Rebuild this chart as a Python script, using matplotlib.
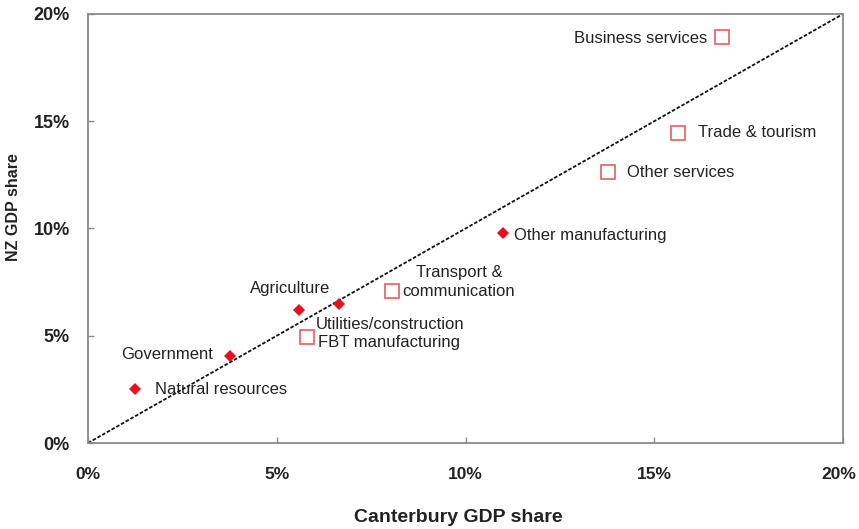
import matplotlib
matplotlib.use("Agg")
import matplotlib.pyplot as plt
import matplotlib.transforms as mtransforms
from matplotlib.ticker import FuncFormatter

plt.rcParams['font.family'] = ['Liberation Sans', 'DejaVu Sans']

# Goods-type sectors (filled red diamonds)
names_d = ["Natural resources", "Government", "Agriculture",
           "Utilities/construction", "Other manufacturing"]
canterbury_d = [1.25, 3.75, 5.6, 6.65, 11.0]
nz_d = [2.5, 4.05, 6.2, 6.5, 9.8]

# Service-type sectors (open squares)
names_s = ["FBT manufacturing", "Transport &\ncommunication", "Other services",
           "Trade & tourism", "Business services"]
canterbury_s = [5.8, 8.05, 13.77, 15.63, 16.8]
nz_s = [4.95, 7.1, 12.63, 14.45, 18.93]

ticks = [0, 5, 10, 15, 20]

fig = plt.figure(figsize=(8.59, 5.29), dpi=100)
ax = fig.add_axes([88/859, 86/529, 755/859, 429/529])

ax.set_xlim(0, 20)
ax.set_ylim(0, 20)

# 45-degree reference line
ax.plot([ticks[0], ticks[-1]], [ticks[0], ticks[-1]], color='#111111',
        linestyle=(0, (2.0, 1.0)), linewidth=1.3, zorder=1)

ax.plot(canterbury_d, nz_d, linestyle='none', marker='D', markersize=6,
        color='#e8101a', markeredgewidth=0, zorder=3)
ax.plot(canterbury_s, nz_s, linestyle='none', marker='s', markersize=9.5,
        markerfacecolor='none', markeredgecolor='#e86a6a',
        markeredgewidth=1.3, zorder=3)

lbl_kw = dict(textcoords='offset pixels', fontsize=12, color='#222222',
              va='center')

# label layout for diamonds
off_d = [(20, 0, 'left'), (-17, 2, 'right'), (-9, 22, 'center'),
         (-23, -21, 'left'), (11, -3, 'left')]
for n, x, y, (dx, dy, ha) in zip(names_d, canterbury_d, nz_d, off_d):
    ax.annotate(n, (x, y), xytext=(dx, dy), ha=ha, **lbl_kw)

off_s = [(11, -6, 'left'), (67, 9, 'center'), (19, 0, 'left'),
         (20, 1, 'left'), (-15, -2, 'right')]
for n, x, y, (dx, dy, ha) in zip(names_s, canterbury_s, nz_s, off_s):
    ax.annotate(n, (x, y), xytext=(dx, dy), ha=ha, linespacing=1.35, **lbl_kw)

ax.set_xticks(ticks)
ax.set_yticks(ticks)
fmt = FuncFormatter(lambda v, p: f"{v:.0f}%")
ax.xaxis.set_major_formatter(fmt)
ax.yaxis.set_major_formatter(fmt)
ax.tick_params(axis='both', direction='in', length=4, width=1.0,
               color='#8a8a8a', labelcolor='#222222')
ax.tick_params(axis='x', pad=17, labelsize=12.5)
ax.tick_params(axis='y', pad=13, labelsize=13)
for lab in ax.get_xticklabels() + ax.get_yticklabels():
    lab.set_fontweight('bold')

# keep the last x tick label inside the figure
fig.canvas.draw()
last = ax.get_xticklabels()[-1]
last.set_transform(last.get_transform() +
                   mtransforms.ScaledTranslation(-4/100, 0, fig.dpi_scale_trans))

for s in ax.spines.values():
    s.set_color('#8a8a8a')
    s.set_linewidth(1.3)

ax.set_xlabel("Canterbury GDP share", fontsize=14, fontweight='bold',
              color='#222222')
ax.set_ylabel("NZ GDP share", fontsize=11.5, fontweight='bold',
              color='#222222')
ax.xaxis.set_label_coords((458-88)/755, (443-518)/429)
ax.xaxis.label.set_va('center')
ax.yaxis.set_label_coords((14-88)/755, (443-207)/429)
ax.yaxis.label.set_va('center')

fig.savefig("out.png", dpi=100)
